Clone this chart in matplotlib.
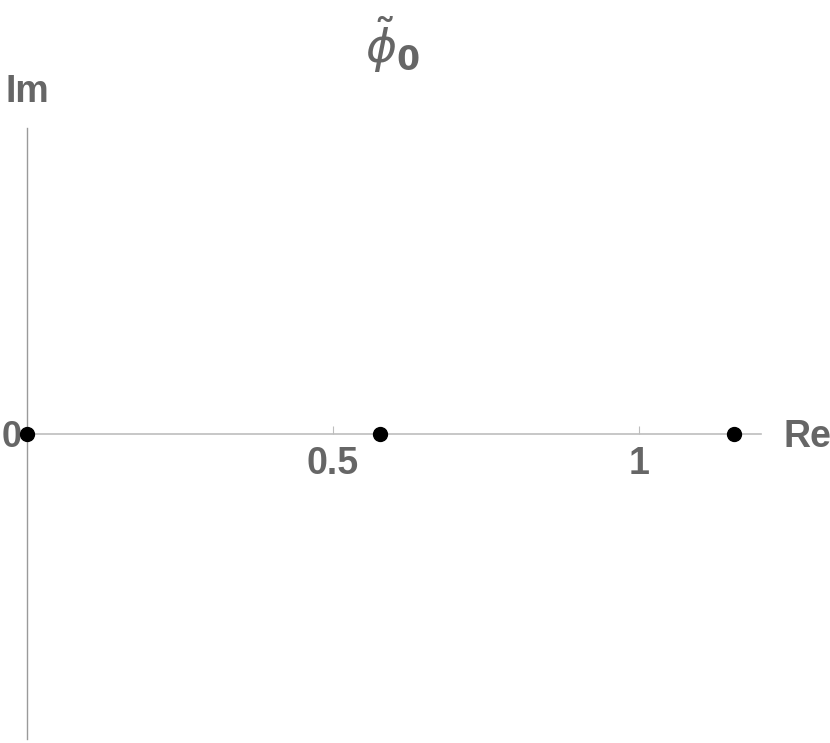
import matplotlib
matplotlib.use("Agg")
import matplotlib.pyplot as plt

# points of phi~_0 in the complex plane
re_vals = [0.0, 0.5774, 1.1547]
im_vals = [0.0, 0.0, 0.0]
x_ticks = [0.5, 1.0]
x_tick_labels = ["0.5", "1"]

plt.rcParams['font.family'] = ['Liberation Sans', 'DejaVu Sans']
plt.rcParams['mathtext.fontset'] = 'dejavusans'

label_color = "#666666"

fig = plt.figure(figsize=(8.3, 7.43), dpi=100)
ax = fig.add_axes([27 / 830, 1 - 739 / 743, (761.4 - 27) / 830, (739 - 128) / 743])
ax.set_xlim(0, 1.2)
ax.set_ylim(-1, 1)

for side in ("top", "right"):
    ax.spines[side].set_visible(False)
ax.spines["bottom"].set_position(("data", 0))
ax.spines["left"].set_position(("data", 0))
ax.spines["bottom"].set_color("#bdbdbd")
ax.spines["left"].set_color("#9a9a9a")
ax.spines["bottom"].set_linewidth(1.2)
ax.spines["left"].set_linewidth(1.0)

ax.set_xticks(x_ticks)
ax.set_xticklabels(x_tick_labels)
ax.tick_params(axis="x", direction="in", length=6, width=0.8, color="#bdbdbd",
               pad=9, labelsize=27, labelcolor=label_color)
for t in ax.get_xticklabels():
    t.set_fontweight("bold")

ax.set_yticks([0])
ax.set_yticklabels(["0"])
ax.tick_params(axis="y", length=0, pad=4, labelsize=26, labelcolor=label_color)
for t in ax.get_yticklabels():
    t.set_fontweight("bold")

ax.plot(re_vals, im_vals, "o", color="black", markersize=10, clip_on=False, zorder=5)

fig.text(27 / 830, 1 - 92 / 743, "Im", ha="center", va="center", fontsize=27,
         fontweight="bold", color=label_color)
fig.text(807 / 830, 1 - 437 / 743, "Re", ha="center", va="center", fontsize=27,
         fontweight="bold", color=label_color)
fig.text(393 / 830, 1 - 45 / 743, r"$\tilde{\phi}_\mathbf{0}$", ha="center", va="center",
         fontsize=34, color=label_color)

fig.savefig("out.png", dpi=100)
